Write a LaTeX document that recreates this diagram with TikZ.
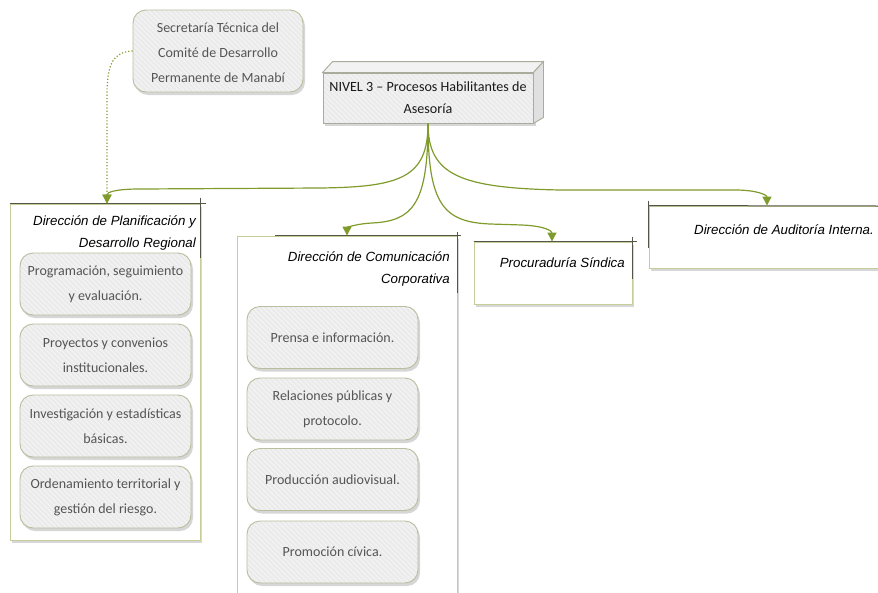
\documentclass[tikz,border=0pt]{standalone}
\usepackage{fontspec}
\setmainfont{Carlito}
\newfontfamily\headfont{Liberation Sans}
\usetikzlibrary{shadows,arrows.meta,calc}
\definecolor{linkgreen}{HTML}{7F9B2C}
\definecolor{boxedge}{HTML}{B9BE9E}
\definecolor{boxfill}{HTML}{EAEAEA}
\definecolor{stripe}{HTML}{F2F2F2}
\definecolor{paneledge}{HTML}{C5CD98}
\definecolor{paneldark}{HTML}{55554A}
\definecolor{softtext}{HTML}{555555}
\definecolor{cubeedge}{HTML}{A9AB9C}
\tikzset{
  hatched/.style={fill=boxfill, path picture={
      \foreach \k in {0,5,...,300}
        \draw[stripe, line width=1.5pt]
          ($(path picture bounding box.north west)+(\k-100,0)$) -- ++(100,100);}},
  softshadow/.style={drop shadow={shadow xshift=2pt, shadow yshift=-3pt, fill=black!35, opacity=0.45}},
  softfont/.style={align=center, text=softtext, font=\fontsize{14}{25}\selectfont},
  roundbox/.style={hatched, softshadow, draw=boxedge, line width=0.9pt, rounded corners=13pt,
    inner sep=0pt, softfont},
  subbox/.style={roundbox, minimum width=171pt, minimum height=62pt},
  panel/.style={draw=paneledge, fill=white, line width=0.9pt, inner sep=0pt, softshadow},
  darkedge/.style={draw=paneldark, line width=1pt},
  headtext/.style={inner sep=0pt, align=right, font=\headfont\itshape\fontsize{13.3}{22}\selectfont},
  link/.style={draw=linkgreen, line width=1.2pt, -{Triangle[length=9pt,width=9pt]}},
  dottedlink/.style={draw=linkgreen, line width=1.2pt, dotted, -{Triangle[length=9pt,width=9pt]}},
}
\begin{document}
\begin{tikzpicture}[x=1pt,y=-1pt]
\useasboundingbox (0,0) rectangle (878,592);

% level header drawn as a cube
\fill[black!35, opacity=0.45] (325,76) rectangle (536,126);
\node[hatched, draw=cubeedge, line width=0.9pt, minimum width=210pt, minimum height=50pt, inner sep=0pt,
  align=center, text=black!90, font=\fontsize{14.1}{22}\selectfont] (nivel) at (428,98)
  {NIVEL 3 – Procesos Habilitantes de\\Asesoría};
\filldraw[draw=cubeedge, line width=0.9pt, fill=black!5] (nivel.north west) -- ++(10,-11) -- ($(nivel.north east)+(10,-11)$) -- (nivel.north east) -- cycle;
\filldraw[draw=cubeedge, line width=0.9pt, fill=black!12] (nivel.north east) -- ++(10,-11) -- ($(nivel.south east)+(10,-6)$) -- (nivel.south east) -- cycle;

% technical secretariat
\node[roundbox, minimum width=170pt, minimum height=82pt] (sec) at (218,51) {};
\node[softfont, inner sep=0pt] (sectext) at ([yshift=-2pt]sec.center)
  {Secretaría Técnica del\\Comité de Desarrollo\\Permanente de Manabí};

% planning directorate
\node[panel, minimum width=190pt, minimum height=336pt] (plan) at (105,372) {};
\draw[darkedge] (plan.north west) -- ++(196,0);
\draw[darkedge] ($(plan.north east)+(0,-6)$) -- ++(0,60);
\node[headtext, anchor=north east] (planhead) at (196,216)
  {Dirección de Planificación y\\Desarrollo Regional};
\node[subbox] (p1) at (105.5,284) {Programación, seguimiento\\y evaluación.};
\node[subbox] (p2) at (105.5,355) {Proyectos y convenios\\institucionales.};
\node[subbox] (p3) at (105.5,426) {Investigación y estadísticas\\básicas.};
\node[subbox] (p4) at (105.5,497) {Ordenamiento territorial y\\gestión del riesgo.};

% communication directorate
\node[panel, minimum width=220pt, minimum height=370pt] (com) at (347,421) {};
\draw[darkedge] ($(com.north west)+(38,0)$) -- ($(com.north east)+(4,0)$);
\draw[darkedge] ($(com.north east)+(0,-4)$) -- ++(0,61);
\node[headtext, anchor=north east] (comhead) at (450,252)
  {Dirección de Comunicación\\Corporativa};
\node[subbox] (c1) at (332.5,337.5) {Prensa e información.};
\node[subbox] (c2) at (332.5,409) {Relaciones públicas y\\protocolo.};
\node[subbox] (c3) at (332.5,479.5) {Producción audiovisual.};
\node[subbox] (c4) at (332.5,552) {Promoción cívica.};

% legal office
\node[panel, minimum width=158pt, minimum height=62pt] (proc) at (553,273) {};
\draw[darkedge] (proc.north west) -- ($(proc.north east)+(5,0)$);
\draw[darkedge] ($(proc.north east)+(0,-5)$) -- ++(0,42);
\node[headtext, anchor=north east] (prochead) at (625,258) {Procuraduría Síndica};

% internal audit
\node[panel, minimum width=232pt, minimum height=62pt] (aud) at (765,237) {};
\draw[darkedge] (aud.north west) -- (878,206);
\draw[darkedge] ($(aud.north west)+(0,-5)$) -- ++(0,47);
\node[headtext, anchor=north east] (audhead) at (874,225) {Dirección de Auditoría Interna.};

% connectors from the level header
\draw[link] (nivel.south) .. controls (428,178) and (400,187) .. (320,188)
  -- (140,189) .. controls (116,189) and (107,192) .. ([xshift=2pt]plan.north);
\draw[link] (nivel.south) .. controls (428,205) and (412,221) .. (372,223)
  .. controls (354,224) and (347,228) .. (com.north);
\draw[link] (nivel.south) .. controls (428,205) and (444,222) .. (490,224)
  -- (522,225) .. controls (545,226) and (552,231) .. (proc.north -| 552,0);
\draw[link] (nivel.south) .. controls (428,175) and (460,188) .. (560,190)
  -- (735,190) .. controls (757,190) and (767,195) .. (aud.north -| 767,0);

% dotted link from the secretariat
\draw[dottedlink] (sec.west) .. controls (113,52) and (107,64) .. (107,95) -- ([xshift=2pt]plan.north);
\end{tikzpicture}
\end{document}
